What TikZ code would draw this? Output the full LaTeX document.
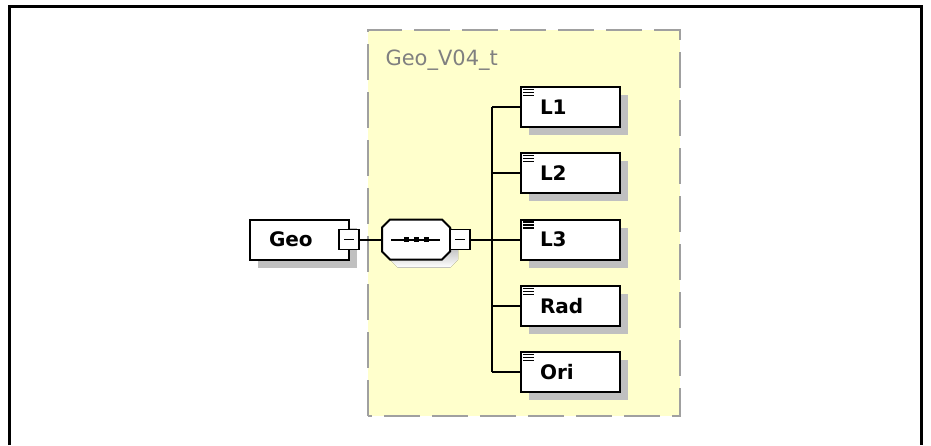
\documentclass[tikz,border=0pt]{standalone}
\usepackage{fontspec}
\setsansfont{DejaVu Sans}
\usetikzlibrary{positioning,shadows}
\definecolor{typefill}{RGB}{255,255,204}
\definecolor{typeline}{RGB}{160,160,160}
\definecolor{shade}{RGB}{192,192,192}

\begin{document}
\begin{tikzpicture}[x=1pt,y=-1pt,
  elem/.style={draw, line width=2pt, fill=white, minimum height=40pt, inner xsep=19pt, text width=61pt, align=left,
    font=\sffamily\bfseries\fontsize{20}{20}\selectfont,
    drop shadow={shadow xshift=8pt, shadow yshift=-8pt, opacity=1, fill=shade}},
  minus/.style={draw, line width=1.5pt, fill=white, minimum size=20pt, inner sep=0pt},
  conn/.style={line width=2pt}]
\useasboundingbox (0,0) rectangle (931,445);
\draw[line width=2.5pt] (9.5,445) -- (9.5,6.5) -- (921.5,6.5) -- (921.5,445);
% complex type
\draw[typeline, fill=typefill, line width=2pt, dash pattern=on 36pt off 12pt] (368,416) rectangle (680,30);
\node[anchor=base west, text=black!50, font=\sffamily\fontsize{21}{21}\selectfont] (title) at (382,65) {Geo\_V04\_t};
% root element
\node[elem] (geo) at (299.5,239.5) {Geo};
\node[minus] (geominus) at (349,239.5) {};
\draw[line width=1.5pt] ([xshift=-5pt]geominus.center) -- ([xshift=5pt]geominus.center);
% sequence
\fill[shade, shift={(8,8)}] (382,227.5) -- (390,219.5) -- (442,219.5) -- (450,227.5) -- (450,251.5) -- (442,259.5) -- (390,259.5) -- (382,251.5) -- cycle;
\draw[fill=white, line width=2pt] (382,227.5) -- (390,219.5) -- (442,219.5) -- (450,227.5) -- (450,251.5) -- (442,259.5) -- (390,259.5) -- (382,251.5) -- cycle;
\node[minimum width=68pt, minimum height=40pt, inner sep=0pt] (seq) at (416,239.5) {};
\draw[conn] ([xshift=-25pt]seq.center) -- ([xshift=24pt]seq.center);
\foreach \d in {-10,0,10} {
  \fill ([xshift=\d pt]seq.center) ++(-2.5,-2.5) rectangle ++(5,5);
}
\node[minus] (seqminus) at (460,239.5) {};
\draw[line width=1.5pt] ([xshift=-5pt]seqminus.center) -- ([xshift=5pt]seqminus.center);
\draw[conn] (geominus) -- (seq);
\coordinate (fork) at (492,239.5);
\draw[conn] (seqminus) -- (fork);
% children
\foreach \n/\l/\y in {l1/L1/107,l2/L2/173,l3/L3/239.5,rad/Rad/306,ori/Ori/372} {
  \node[elem] (\n) at (570.5,\y) {\l};
  \foreach \k in {0,1,2} {
    \draw[line width=1.3pt] ([shift={(3,3.5+3*\k)}]\n.north west) -- ++(11,0);
  }
  \draw[conn] (fork |- \n.west) -- (\n.west);
}
\draw[conn] (fork |- l1.west) -- (fork |- ori.west);
\end{tikzpicture}
\end{document}
